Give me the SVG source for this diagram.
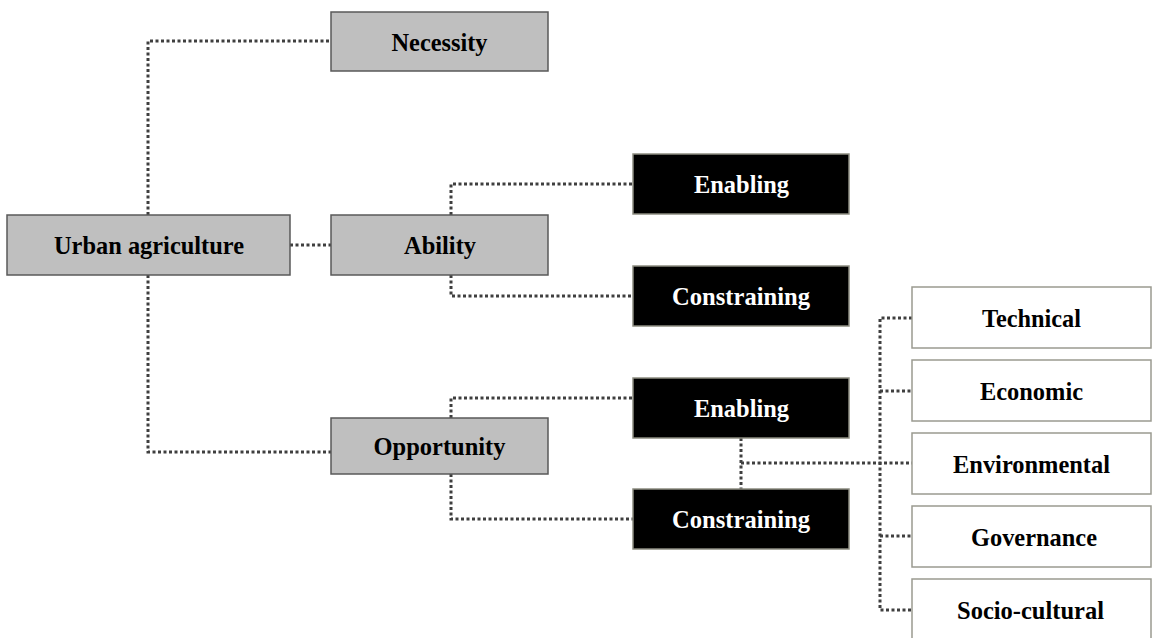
<svg xmlns="http://www.w3.org/2000/svg" width="1157" height="638" viewBox="0 0 1157 638">
<style>
.g{fill:#bfbfbf;stroke:#595959;stroke-width:1.5}
.k{fill:#000;stroke:#8c8c80;stroke-width:1.5}
.w{fill:#fff;stroke:#9a9a90;stroke-width:1.5}
.t{font-family:"Liberation Serif","Times New Roman",serif;font-weight:bold;font-size:25.5px;text-anchor:middle}
.tw{fill:#fff}
.tb{fill:#000}
.c{fill:none;stroke:#3f3f3f;stroke-width:3;stroke-dasharray:3 2.5}
</style>
<rect width="1157" height="638" fill="#fff"/>
<g id="connectors">
<path class="c" d="M148 215 V41 H331"/>
<path class="c" d="M290 245 H331"/>
<path class="c" d="M148 275 V452 H331"/>
<path class="c" d="M451 215 V184 H633"/>
<path class="c" d="M451 275 V296 H633"/>
<path class="c" d="M451 418 V398 H633"/>
<path class="c" d="M451 474 V519 H633"/>
<path class="c" d="M741 438 V489"/>
<path class="c" d="M741 463 H912"/>
<path class="c" d="M912 318 H880 V610 H912"/>
<path class="c" d="M880 391 H912"/>
<path class="c" d="M880 536 H912"/>
</g>
<g id="necessity"><rect class="g" x="331" y="12" width="217" height="59"/><text class="t tb" x="439.5" y="51" textLength="96" lengthAdjust="spacingAndGlyphs">Necessity</text></g>
<g id="urban"><rect class="g" x="7" y="215" width="283" height="60"/><text class="t tb" x="149" y="254" textLength="190" lengthAdjust="spacingAndGlyphs">Urban agriculture</text></g>
<g id="ability"><rect class="g" x="331" y="215" width="217" height="60"/><text class="t tb" x="440" y="254" textLength="72" lengthAdjust="spacingAndGlyphs">Ability</text></g>
<g id="opportunity"><rect class="g" x="331" y="418" width="217" height="56"/><text class="t tb" x="439.5" y="455" textLength="132" lengthAdjust="spacingAndGlyphs">Opportunity</text></g>
<g id="ability-enabling"><rect class="k" x="633" y="154" width="216" height="60"/><text class="t tw" x="741.5" y="193" textLength="95" lengthAdjust="spacingAndGlyphs">Enabling</text></g>
<g id="ability-constraining"><rect class="k" x="633" y="266" width="216" height="60"/><text class="t tw" x="741" y="305" textLength="138" lengthAdjust="spacingAndGlyphs">Constraining</text></g>
<g id="opportunity-enabling"><rect class="k" x="633" y="378" width="216" height="60"/><text class="t tw" x="741.5" y="417" textLength="95" lengthAdjust="spacingAndGlyphs">Enabling</text></g>
<g id="opportunity-constraining"><rect class="k" x="633" y="489" width="216" height="60"/><text class="t tw" x="741" y="528" textLength="138" lengthAdjust="spacingAndGlyphs">Constraining</text></g>
<g id="technical"><rect class="w" x="912" y="287" width="239" height="61"/><text class="t tb" x="1031.5" y="327" textLength="99" lengthAdjust="spacingAndGlyphs">Technical</text></g>
<g id="economic"><rect class="w" x="912" y="360" width="239" height="61"/><text class="t tb" x="1031.5" y="400" textLength="103" lengthAdjust="spacingAndGlyphs">Economic</text></g>
<g id="environmental"><rect class="w" x="912" y="433" width="239" height="61"/><text class="t tb" x="1031.5" y="473" textLength="157" lengthAdjust="spacingAndGlyphs">Environmental</text></g>
<g id="governance"><rect class="w" x="912" y="506" width="239" height="61"/><text class="t tb" x="1034" y="546" textLength="126" lengthAdjust="spacingAndGlyphs">Governance</text></g>
<g id="socio-cultural"><rect class="w" x="912" y="579" width="239" height="70"/><text class="t tb" x="1030.5" y="619" textLength="147" lengthAdjust="spacingAndGlyphs">Socio-cultural</text></g>
</svg>
